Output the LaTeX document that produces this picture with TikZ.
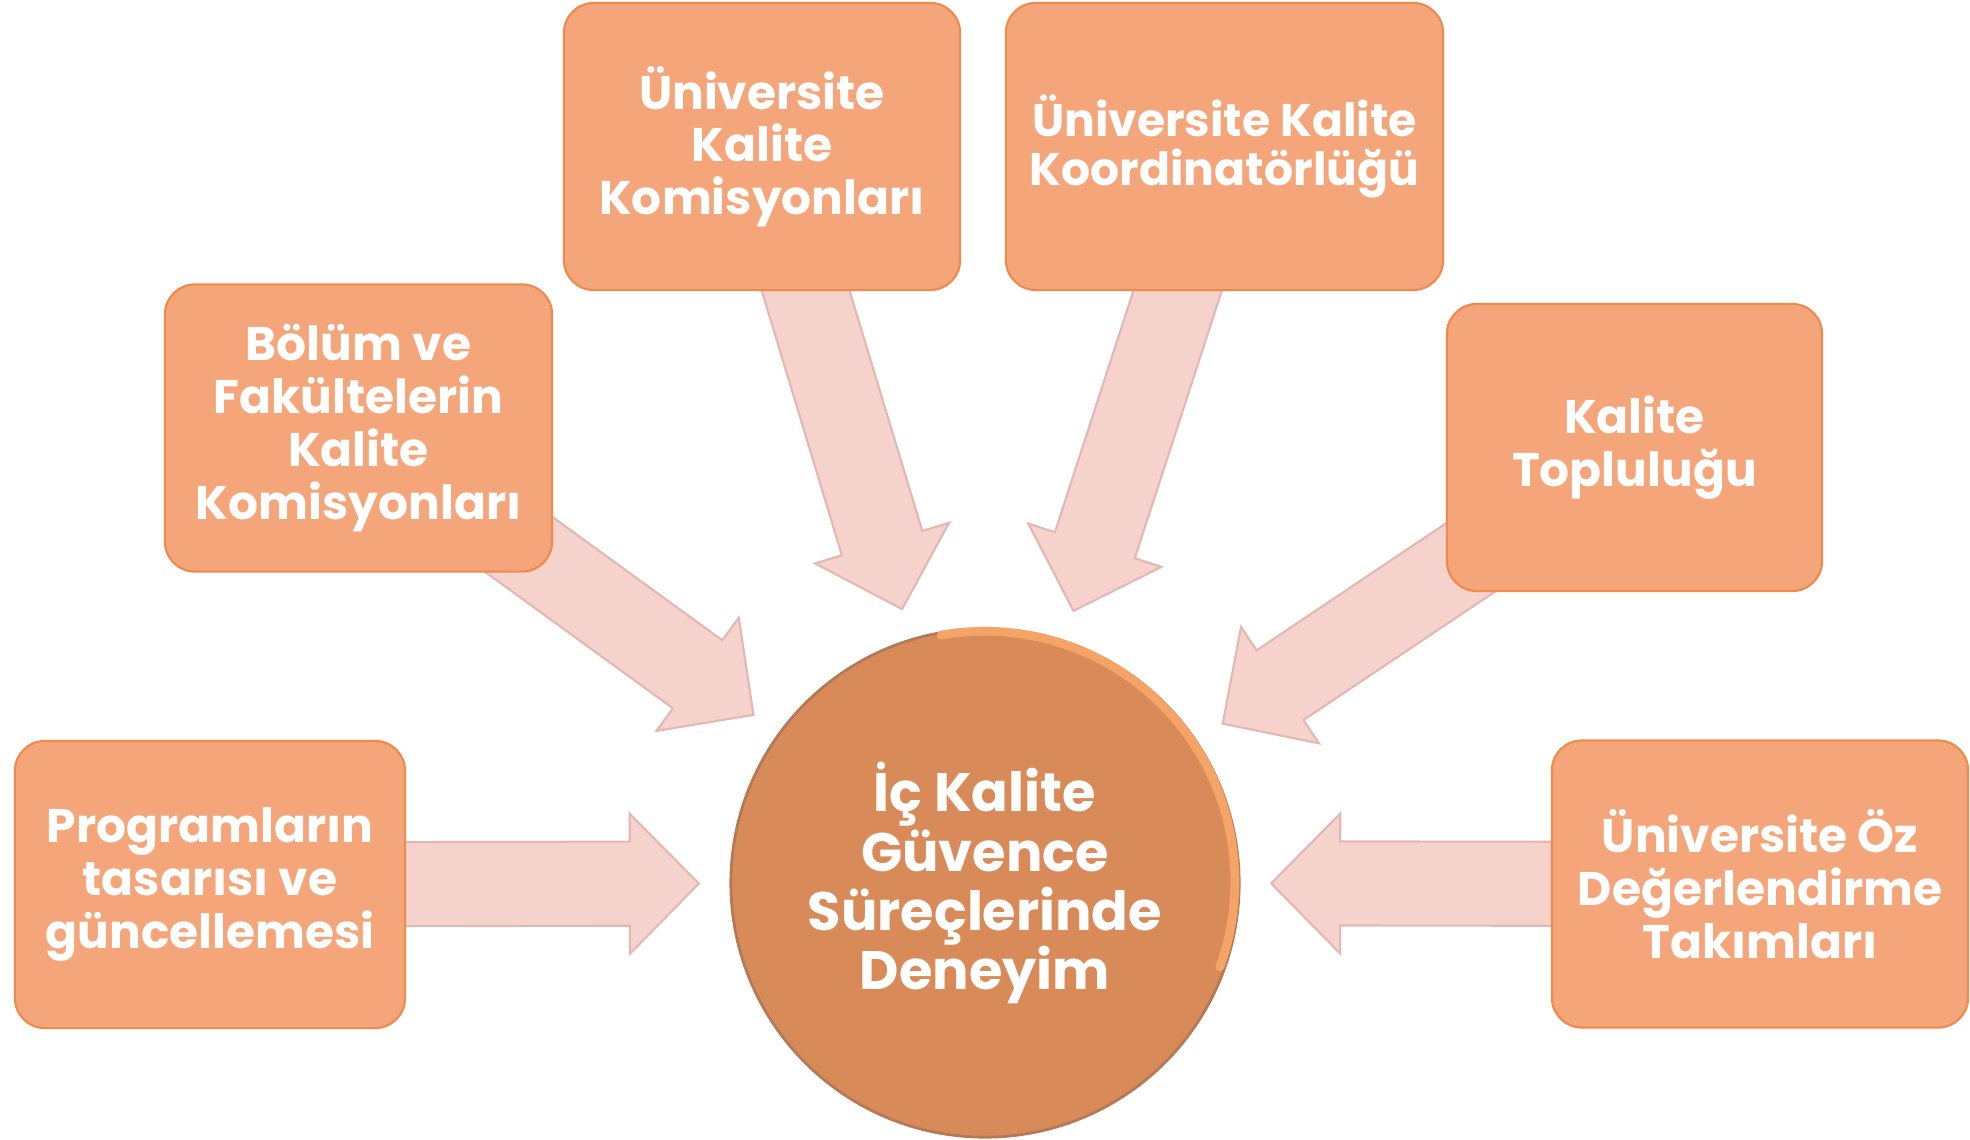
\documentclass[tikz,border=0pt]{standalone}
\usepackage{fontspec}
\setmainfont{Poppins}
\usetikzlibrary{calc,backgrounds}

\definecolor{kutuic}{RGB}{244,165,122}
\definecolor{kutukenar}{RGB}{239,138,76}
\definecolor{okic}{RGB}{245,210,204}
\definecolor{okkenar}{RGB}{228,184,178}
\definecolor{merkezic}{RGB}{216,139,89}
\definecolor{merkezkenar}{RGB}{180,122,88}
\definecolor{merkezisik}{RGB}{245,163,102}

\tikzset{
  kutu/.style={draw=kutukenar,fill=kutuic,line width=0.6pt,rounded corners=0.3cm,
    minimum height=2.87cm,align=center,text=white,
    font=\bfseries\fontsize{13.4}{15}\selectfont},
  merkez/.style={circle,draw=merkezkenar,fill=merkezic,line width=0.8pt,
    minimum size=5.08cm,align=center,text=white,
    font=\bfseries\fontsize{15.4}{16.8}\selectfont},
  blok/.style={draw=okkenar,fill=okic,line width=0.6pt,line join=miter}
}

% block arrow from box #1 towards the circle #2
\newcommand{\blokok}[2]{%
  \coordinate (uc) at ($(#2)!2.86cm!(#1)$);
  \coordinate (ta) at ($(uc)!0.69cm!(#1)$);
  \draw[blok] ($(#1)!0.42cm!90:(uc)$) -- ($(ta)!0.42cm!90:(uc)$)
    -- ($(ta)!0.70cm!90:(uc)$) -- (uc) -- ($(ta)!0.70cm!-90:(uc)$)
    -- ($(ta)!0.42cm!-90:(uc)$) -- ($(#1)!0.42cm!-90:(uc)$) -- cycle;
}

\begin{document}
\begin{tikzpicture}[x=0.01cm,y=-0.01cm]
  \useasboundingbox (0,0) rectangle (1970,1139);

  \node[merkez] (deneyim) at (985,883) {İç Kalite\\Güvence\\Süreçlerinde\\Deneyim};
  % light rim on the upper right
  \draw[merkezisik,line width=2.5pt,line cap=round]
    ($(deneyim.center)!0.985!(deneyim.100)$)
    arc[start angle=100,end angle=-20,radius=2.50cm];

  \node[kutu,minimum width=3.90cm] (program) at (210,884.5)
    {Programların\\tasarısı ve\\güncellemesi};
  \node[kutu,minimum width=3.87cm] (bolum) at (358.5,428)
    {Bölüm ve\\Fakültelerin\\Kalite\\Komisyonları};
  \node[kutu,minimum width=3.96cm] (komisyon) at (762,146.5)
    {Üniversite\\Kalite\\Komisyonları};
  \node[kutu,minimum width=4.37cm,font=\bfseries\fontsize{13}{14}\selectfont]
    (koord) at (1224.5,146.5) {Üniversite Kalite\\Koordinatörlüğü};
  \node[kutu,minimum width=3.75cm] (topluluk) at (1634.5,447.5)
    {Kalite\\Topluluğu};
  \node[kutu,minimum width=4.16cm] (oz) at (1760,884)
    {Üniversite Öz\\Değerlendirme\\Takımları};

  \begin{pgfonlayer}{background}
    \foreach \k in {program,bolum,komisyon,koord,topluluk,oz}
      {\blokok{\k}{deneyim}}
  \end{pgfonlayer}
\end{tikzpicture}
\end{document}
